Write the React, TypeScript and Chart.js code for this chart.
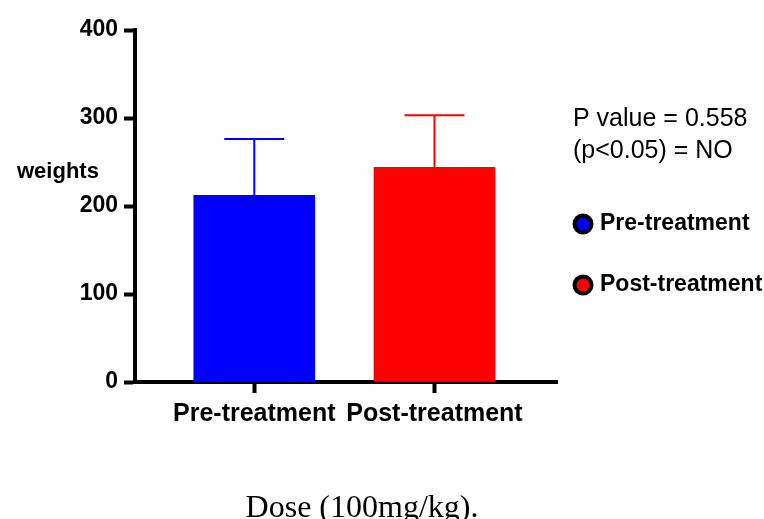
import React, { useEffect, useRef } from "react";
import { Chart, registerables } from "chart.js";

Chart.register(...registerables);

const categories = ["Pre-treatment", "Post-treatment"];
const means = [212, 244];
const sds = [64, 59];
const barColors = ["#0000ff", "#ff0000"];
const yTickValues = [0, 100, 200, 300, 400];
const yTitle = "weights";
const pValueLines = ["P value = 0.558", "(p<0.05) = NO"];
const legendLabels = ["Pre-treatment", "Post-treatment"];
const xCaption = "Dose (100mg/kg).";

const SANS = '"Liberation Sans", Arial, Helvetica, sans-serif';
const SERIF = '"Liberation Serif", "Times New Roman", serif';

const errorBarPlugin = {
  id: "errorBars",
  afterDatasetsDraw(chart: any) {
    const ctx = chart.ctx;
    const yScale = chart.scales.y;
    const meta = chart.getDatasetMeta(0);
    ctx.save();
    meta.data.forEach((bar: any, i: number) => {
      const x = bar.x;
      const yMean = yScale.getPixelForValue(means[i]);
      const yTop = yScale.getPixelForValue(means[i] + sds[i]);
      ctx.strokeStyle = barColors[i];
      ctx.lineWidth = 2;
      ctx.beginPath();
      ctx.moveTo(x, yMean);
      ctx.lineTo(x, yTop);
      ctx.moveTo(x - 30, yTop);
      ctx.lineTo(x + 30, yTop);
      ctx.stroke();
    });
    ctx.restore();
  },
};

const annotationPlugin = {
  id: "annotations",
  afterDraw(chart: any) {
    const ctx = chart.ctx;
    ctx.save();
    ctx.fillStyle = "#000";
    ctx.font = `bold 22px ${SANS}`;
    ctx.textAlign = "left";
    ctx.textBaseline = "middle";
    ctx.fillText(yTitle, 17, 172);
    ctx.font = `25px ${SANS}`;
    ctx.fillText(pValueLines[0], 573, 119);
    ctx.fillText(pValueLines[1], 573, 151);
    const ly = [224, 285];
    legendLabels.forEach((lbl, i) => {
      ctx.beginPath();
      ctx.arc(583, ly[i], 8.5, 0, Math.PI * 2);
      ctx.fillStyle = barColors[i];
      ctx.fill();
      ctx.lineWidth = 4;
      ctx.strokeStyle = "#000";
      ctx.stroke();
      ctx.fillStyle = "#000";
      ctx.font = `bold 23px ${SANS}`;
      ctx.fillText(lbl, 600, ly[i]);
    });
    ctx.font = `32px ${SERIF}`;
    ctx.textAlign = "center";
    ctx.textBaseline = "alphabetic";
    ctx.fillText(xCaption, 362, 517);
    ctx.restore();
  },
};

export default function App() {
  const ref = useRef<HTMLCanvasElement>(null);
  useEffect(() => {
    document.body.style.margin = "0";
    const chart = new Chart(ref.current!, {
      type: "bar",
      data: {
        datasets: [
          {
            data: categories.map((c, i) => ({ x: i, y: means[i] })),
            backgroundColor: barColors,
            borderWidth: 0,
            barThickness: 121,
          },
        ],
      },
      options: {
        responsive: false,
        animation: false,
        layout: { padding: { left: 0, top: 30, right: 207, bottom: 0 } },
        plugins: { legend: { display: false }, tooltip: { enabled: false } },
        scales: {
          x: {
            type: "linear",
            offset: false,
            min: -0.662,
            max: 1.68,
            afterBuildTicks: (scale: any) => {
              scale.ticks = categories.map((_, i) => ({ value: i }));
            },
            afterFit: (scale: any) => {
              scale.height = 137;
            },
            ticks: {
              callback: (v: any) => categories[v] ?? "",
              font: { family: SANS, size: 25, weight: "bold" },
              color: "#000",
              padding: 6,
              maxRotation: 0,
              autoSkip: false,
            },
            grid: {
              offset: false,
              drawOnChartArea: false,
              drawTicks: true,
              tickLength: 11,
              tickWidth: 4,
              tickColor: "#000",
              color: "#000",
            },
            border: { color: "#000", width: 4 },
          },
          y: {
            min: 0,
            max: 400,
            afterBuildTicks: (scale: any) => {
              scale.ticks = yTickValues.map((v) => ({ value: v }));
            },
            afterFit: (scale: any) => {
              scale.width = 135;
            },
            ticks: {
              font: { family: SANS, size: 23, weight: "bold" },
              color: "#000",
              padding: 6,
            },
            grid: {
              drawOnChartArea: false,
              drawTicks: true,
              tickLength: 11,
              tickWidth: 4,
              tickColor: "#000",
              color: "#000",
            },
            border: { color: "#000", width: 4 },
          },
        },
      },
      plugins: [errorBarPlugin, annotationPlugin],
    } as any);
    return () => chart.destroy();
  }, []);
  return (
    <canvas
      ref={ref}
      width={764}
      height={519}
      style={{ display: "block", width: 764, height: 519 }}
    />
  );
}
